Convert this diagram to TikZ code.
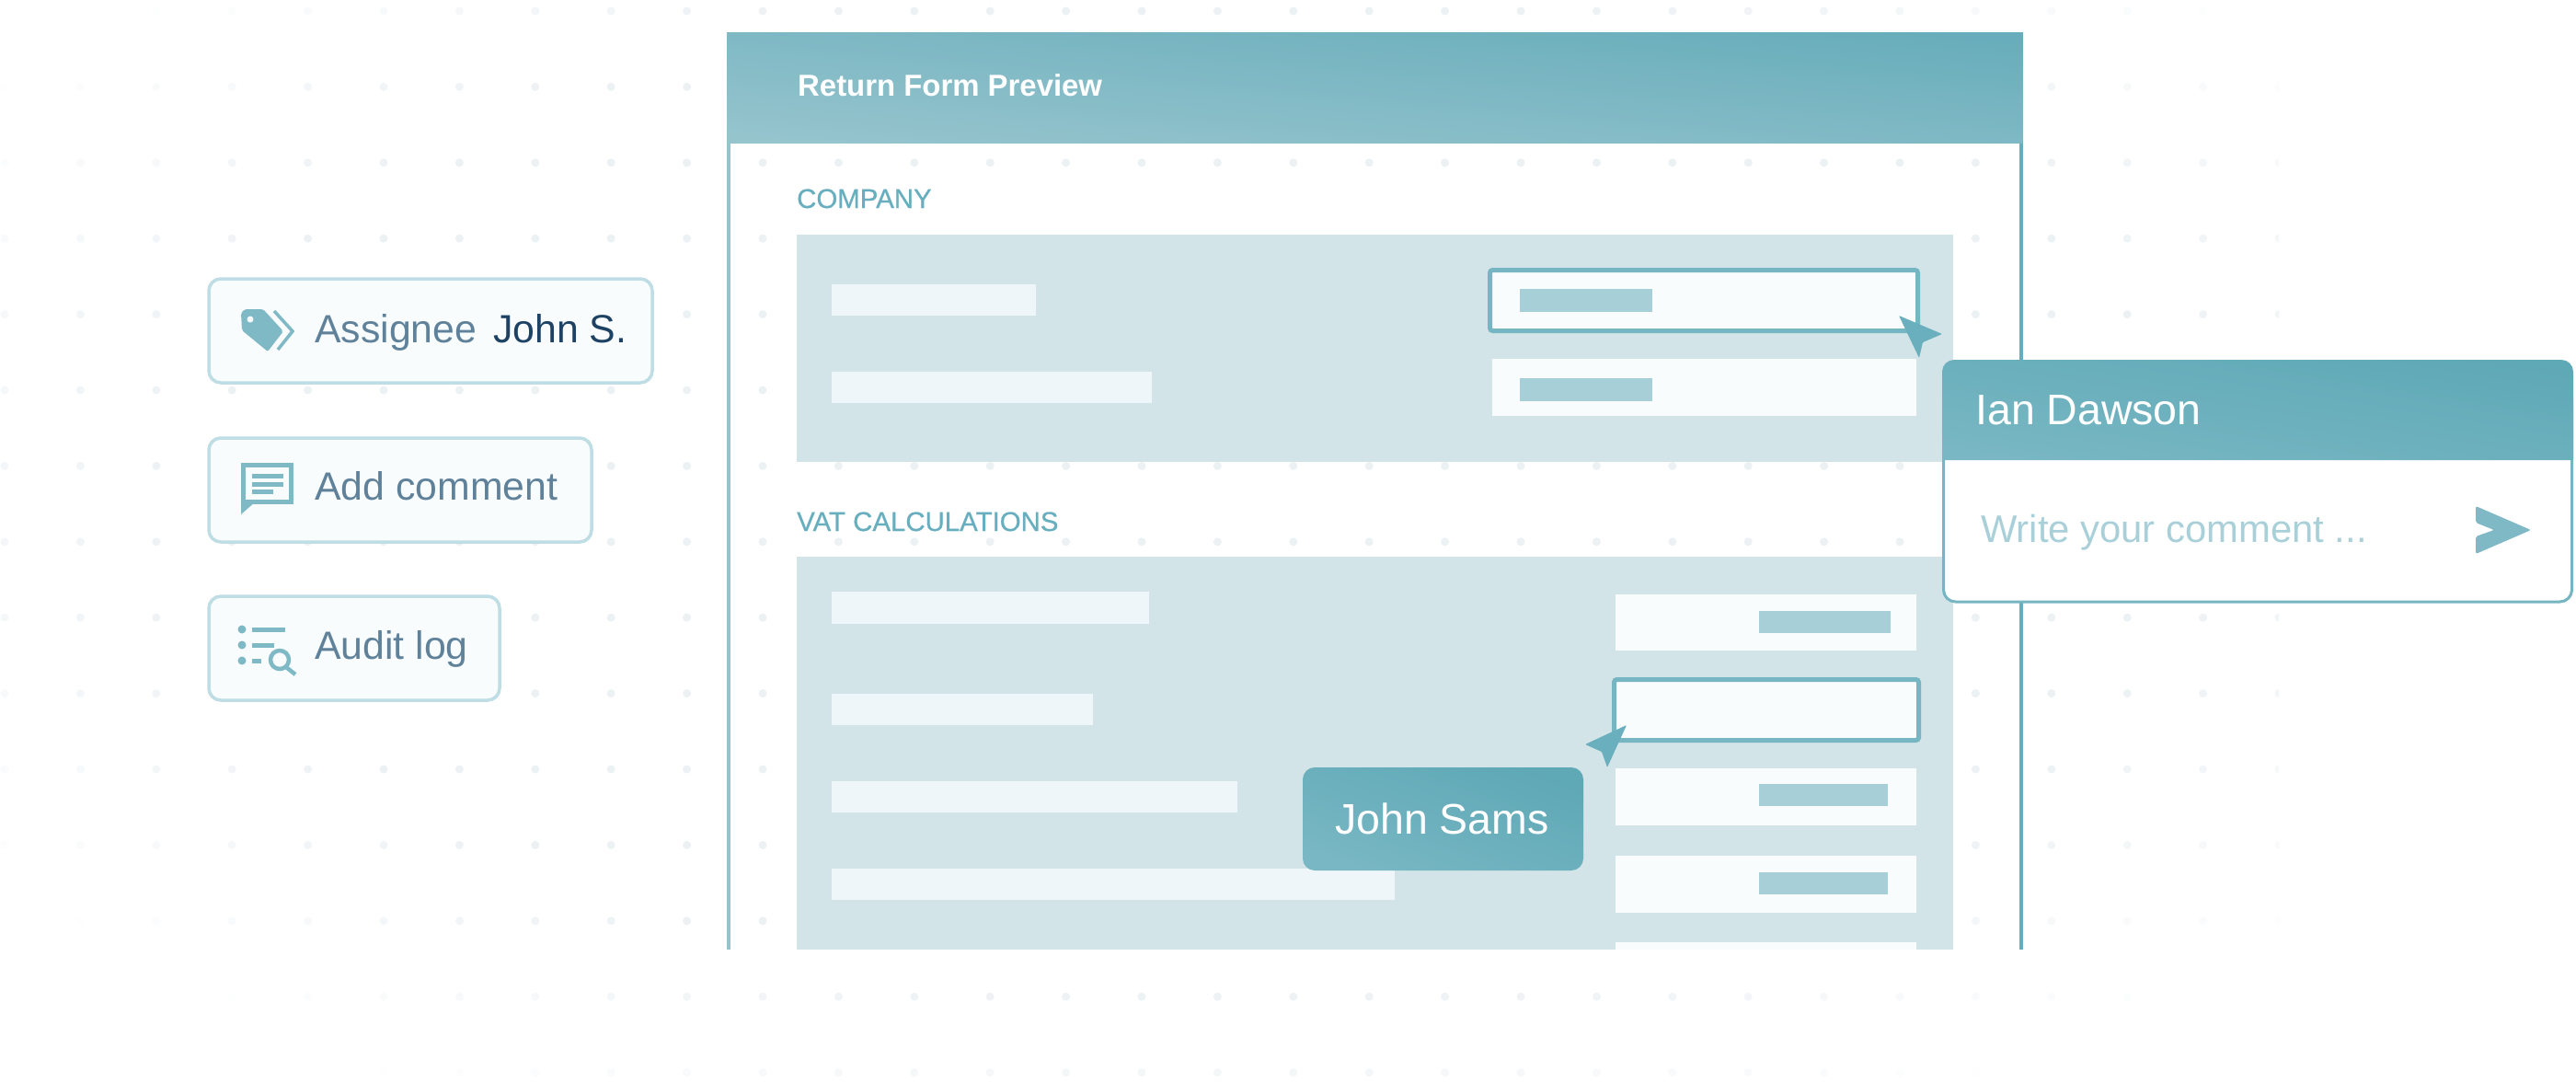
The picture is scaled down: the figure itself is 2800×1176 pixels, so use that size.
\documentclass[tikz,border=0pt]{standalone}
\usepackage{fontspec}
\setmainfont{Liberation Sans}
\newfontfamily\midfont[FakeBold=0.6]{Liberation Sans}
\definecolor{griddot}{HTML}{ECF1F4}
\definecolor{paneltop}{HTML}{68ADBB}
\definecolor{panellow}{HTML}{95C4CD}
\definecolor{cardtop}{HTML}{5FA8B6}
\definecolor{cardlow}{HTML}{78B7C3}
\definecolor{area}{HTML}{D2E4E7}
\definecolor{bar}{HTML}{EEF6F9}
\definecolor{rowfill}{HTML}{F8FCFD}
\definecolor{stub}{HTML}{A7CFD7}
\definecolor{frame}{HTML}{76B5C2}
\definecolor{pointer}{HTML}{69AFBD}
\definecolor{caption}{HTML}{67AEBE}
\definecolor{btnline}{HTML}{BEDDE4}
\definecolor{btntext}{HTML}{5F8199}
\definecolor{btndark}{HTML}{1D4263}
\definecolor{hint}{HTML}{A9D0D9}
\definecolor{icon}{HTML}{7FB9C5}
\begin{document}
\begin{tikzpicture}[x=1pt,y=-1pt,
				every node/.style={inner sep=0pt,anchor=base west},
				btn/.style={draw=btnline,line width=3.5pt,fill=rowfill,rounded corners=13pt},
				btnlabel/.style={text=btntext,font=\fontsize{42.8}{50}\selectfont},
				seclabel/.style={text=caption,font=\midfont\fontsize{29.4}{35}\selectfont},
				namelabel/.style={text=white,font=\fontsize{46.5}{55}\selectfont},
				hilite/.style={draw=frame,line width=5pt,fill=rowfill,rounded corners=3pt},
				cursor/.style={fill=pointer,rounded corners=1pt},
				cardshade/.style={left color=cardlow,right color=cardtop,shading angle=#1}]
\useasboundingbox (0,0) rectangle (2800,1176);
\fill[white] (0,0) rectangle (2800,1176);
\begin{scope}
	\clip (0,0) rectangle (2477,1176);
	\foreach \i in {0,...,30}
		\foreach \j in {0,...,14} {
			\pgfmathsetmacro{\dotx}{5+82.4*\i}
			\pgfmathsetmacro{\doty}{12+82.4*\j}
			\pgfmathsetmacro{\dotop}{min(1,max(0,3.1*(1.03-sqrt(((\dotx-1300)/1516)^2+((\doty-526)/754)^2))))}
			\fill[griddot,opacity=\dotop] (\dotx,\doty) circle (4.5);
		}
\end{scope}
\fill[panellow] (790,35) rectangle (794,1032);
\fill[paneltop] (2195,35) rectangle (2198.5,1032);
\shade[left color=panellow,right color=paneltop,shading angle=175] (790,35) rectangle (2198.5,155);
\node (formtitle) [text=white,font=\bfseries\fontsize{32.9}{40}\selectfont] at (867,104) {Return Form Preview};
\node (company) [seclabel] at (866,226) {COMPANY};
\fill[area] (866,255) rectangle (2123,502);
\fill[bar] (904,309) rectangle (1126,343);
\fill[bar] (904,404) rectangle (1252,438);
\draw[hilite] (1619.5,293.5) rectangle (2084.5,359.5);
\fill[stub] (1652,314) rectangle (1796,339);
\fill[rowfill] (1622,390) rectangle (2083,452);
\fill[stub] (1652,411) rectangle (1796,436);
\node (vat) [seclabel] at (866,577) {VAT CALCULATIONS};
\fill[area] (866,605) rectangle (2123,1032);
\fill[bar] (904,643) rectangle (1249,678);
\fill[bar] (904,754) rectangle (1188,788);
\fill[bar] (904,849) rectangle (1345,883);
\fill[bar] (904,944) rectangle (1516,978);
\fill[rowfill] (1756,646) rectangle (2083,707);
\fill[stub] (1912,664) rectangle (2055,688);
\draw[hilite] (1754.5,738.5) rectangle (2085.5,804.5);
\fill[rowfill] (1756,835) rectangle (2083,897);
\fill[stub] (1912,852) rectangle (2052,876);
\fill[rowfill] (1756,930) rectangle (2083,992);
\fill[stub] (1912,948) rectangle (2052,972);
\fill[rowfill] (1756,1024) rectangle (2083,1032);
\fill[cursor] (2064,343) -- (2111,363) -- (2090,372) -- (2086,389) -- cycle;
\shade[cardshade=160,rounded corners=13pt] (1416,834) rectangle (1721,946);
\node (johnsams) [namelabel] at (1451,906) {John Sams};
\fill[cursor] (1768,788) -- (1723,809) -- (1741,817) -- (1747,834) -- cycle;
\draw[draw=frame,line width=3pt,fill=white,rounded corners=13pt] (2112.5,420) rectangle (2795.5,654);
\shade[cardshade=171,rounded corners=13pt] (2111,500) -- (2111,391) -- (2797,391) [sharp corners] -- (2797,500) -- cycle;
\node (iandawson) [namelabel] at (2147,461) {Ian Dawson};
\node (writehint) [text=hint,font=\fontsize{41.8}{50}\selectfont] at (2153,589) {Write your comment ...};
\fill[icon,rounded corners=2pt] (2691,550) -- (2751,576) -- (2691,602) -- (2691,583) -- (2711,576) -- (2691,568) -- cycle;
\draw[btn] (227,303) rectangle (709,416);
\fill[icon,rounded corners=2pt] (262,340) -- (266,336) -- (286,336) -- (308,360) -- (291,382) -- (263,359) -- cycle;
\fill[rowfill] (272,347) circle (3.5);
\draw[icon,line width=3.5pt] (298,338) -- (318,360) -- (302,380);
\node (assignee) [btnlabel] at (342,372) {Assignee};
\node (johns) [btnlabel,text=btndark] at (536,372) {John S.};
\draw[btn] (227,476) rectangle (643,589);
\draw[icon,line width=5pt] (264.5,505.5) -- (316.5,505.5) -- (316.5,545.5) -- (264.5,545.5) -- cycle;
\fill[icon] (262,543) -- (262,559) -- (278,545) -- cycle;
\foreach \ly/\lx in {517/308,526/308,534/297}
	\draw[icon,line width=5pt] (274,\ly) -- (\lx,\ly);
\node (addcomment) [btnlabel] at (342,543) {Add comment};
\draw[btn] (227,648) rectangle (543,761);
\foreach \ly/\lx in {684/310,701/298,718/284} {
	\fill[icon] (263,\ly) circle (4.5);
	\draw[icon,line width=5pt] (274,\ly) -- (\lx,\ly);
}
\draw[icon,line width=4.5pt] (304,717) circle (10);
\draw[icon,line width=4.5pt] (311,725) -- (321,733);
\node (auditlog) [btnlabel] at (342,716) {Audit log};
\end{tikzpicture}
\end{document}
